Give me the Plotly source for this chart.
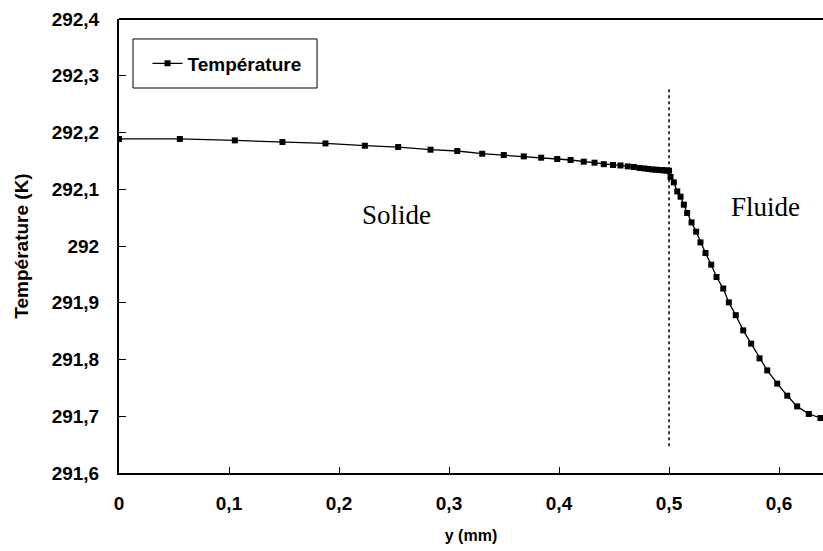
import plotly.graph_objects as go

# ---- data ----
y_solid = [0.0, 0.0553, 0.1053, 0.1486, 0.1877, 0.2235, 0.2538, 0.2832, 0.3075, 0.3302,
           0.3498, 0.3680, 0.3838, 0.3984, 0.4105, 0.4225, 0.4323, 0.4407, 0.4491, 0.4559,
           0.4625, 0.4680, 0.4732, 0.4777, 0.4814, 0.4850, 0.4882, 0.4909, 0.4936, 0.4959,
           0.4982, 0.5000]
t_solid = [292.1886, 292.1886, 292.1861, 292.1833, 292.1808, 292.1767, 292.1744, 292.1697,
           292.1674, 292.1626, 292.1603, 292.1579, 292.1556, 292.1533, 292.1515, 292.1486,
           292.1468, 292.1442, 292.1428, 292.1419, 292.1403, 292.1392, 292.1375, 292.1366,
           292.1357, 292.1348, 292.1345, 292.1339, 292.1336, 292.1332, 292.1330, 292.1327]
y_fluid = [0.5014, 0.5044, 0.5075, 0.5105, 0.5135, 0.5165, 0.5205, 0.5247, 0.5286, 0.5332,
           0.5384, 0.5432, 0.5493, 0.5544, 0.5607, 0.5675, 0.5747, 0.5823, 0.5893, 0.5984,
           0.6075, 0.6165, 0.6271, 0.6377]
t_fluid = [292.1216, 292.1121, 292.0962, 292.0869, 292.0728, 292.0582, 292.0416, 292.0252,
           292.0064, 291.9877, 291.9671, 291.9454, 291.9251, 291.9006, 291.8781, 291.8513,
           291.8279, 291.8020, 291.7808, 291.7574, 291.7362, 291.7174, 291.7040, 291.6969]

interface_x = [0.5, 0.5]
interface_t = [291.647, 292.28]

x_tickvals = [0, 0.1, 0.2, 0.3, 0.4, 0.5, 0.6]
x_ticktext = ["0", "0,1", "0,2", "0,3", "0,4", "0,5", "0,6"]
y_tickvals = [291.6, 291.7, 291.8, 291.9, 292.0, 292.1, 292.2, 292.3, 292.4]
y_ticktext = ["291,6", "291,7", "291,8", "291,9", "292", "292,1", "292,2", "292,3", "292,4"]

labels = [("Solide", 0.2523, 292.0555), ("Fluide", 0.5877, 292.068)]

sans = "Liberation Sans, Arial, sans-serif"
serif = "Liberation Serif, Times New Roman, serif"

fig = go.Figure()
fig.add_trace(go.Scatter(
    x=y_solid + y_fluid, y=t_solid + t_fluid, mode="lines+markers",
    name="<b>Température</b>",
    line=dict(color="black", width=1.3),
    marker=dict(symbol="square", size=6, color="black"),
))
fig.add_trace(go.Scatter(
    x=interface_x, y=interface_t, mode="lines", showlegend=False,
    line=dict(color="black", width=1.5, dash="dot"),
))

for txt, xx, yy in labels:
    fig.add_annotation(x=xx, y=yy, text=txt, showarrow=False,
                       font=dict(family=serif, size=27, color="black"))

# top frame line
fig.add_shape(type="line", xref="paper", yref="paper", x0=0, x1=1, y0=1, y1=1,
              line=dict(color="black", width=2))
# legend frame
fig.add_shape(type="rect", xref="paper", yref="paper", x0=0.0199, x1=0.2813,
              y0=0.848, y1=0.956, line=dict(color="black", width=1), fillcolor="white",
              layer="below")

fig.update_layout(
    width=823, height=551,
    margin=dict(l=119, r=0, t=19, b=78),
    paper_bgcolor="white", plot_bgcolor="white",
    font=dict(family=sans, color="black"),
    legend=dict(x=0.0405, y=0.902, xanchor="left", yanchor="middle",
                borderwidth=0, bgcolor="rgba(0,0,0,0)",
                font=dict(family=sans, size=19, color="black")),
    xaxis=dict(range=[0, 0.64], tickvals=x_tickvals, ticktext=x_ticktext,
               showgrid=False, zeroline=False, showline=True, linecolor="black",
               linewidth=2, ticks="inside", ticklen=6, tickcolor="black",
               automargin=False, ticklabelstandoff=12,
               tickfont=dict(family=sans, size=19, color="black", weight="bold"),
               title=dict(text="<b>y (mm)</b>", font=dict(family=sans, size=16), standoff=17)),
    yaxis=dict(range=[291.6, 292.4], tickvals=y_tickvals, ticktext=y_ticktext,
               showgrid=False, zeroline=False, showline=True, linecolor="black",
               linewidth=2, ticks="inside", ticklen=7, tickcolor="black",
               automargin=False, ticklabelstandoff=14,
               tickfont=dict(family=sans, size=19, color="black", weight="bold"),
               title=dict(text="<b>Température (K)</b>", font=dict(family=sans, size=19), standoff=18)),
)

# remove the default 8px page margin so the figure fills the window exactly
fig.write_html("out.html", config={"displayModeBar": False},
               post_script="document.body.style.margin='0';document.body.style.overflow='hidden';")
